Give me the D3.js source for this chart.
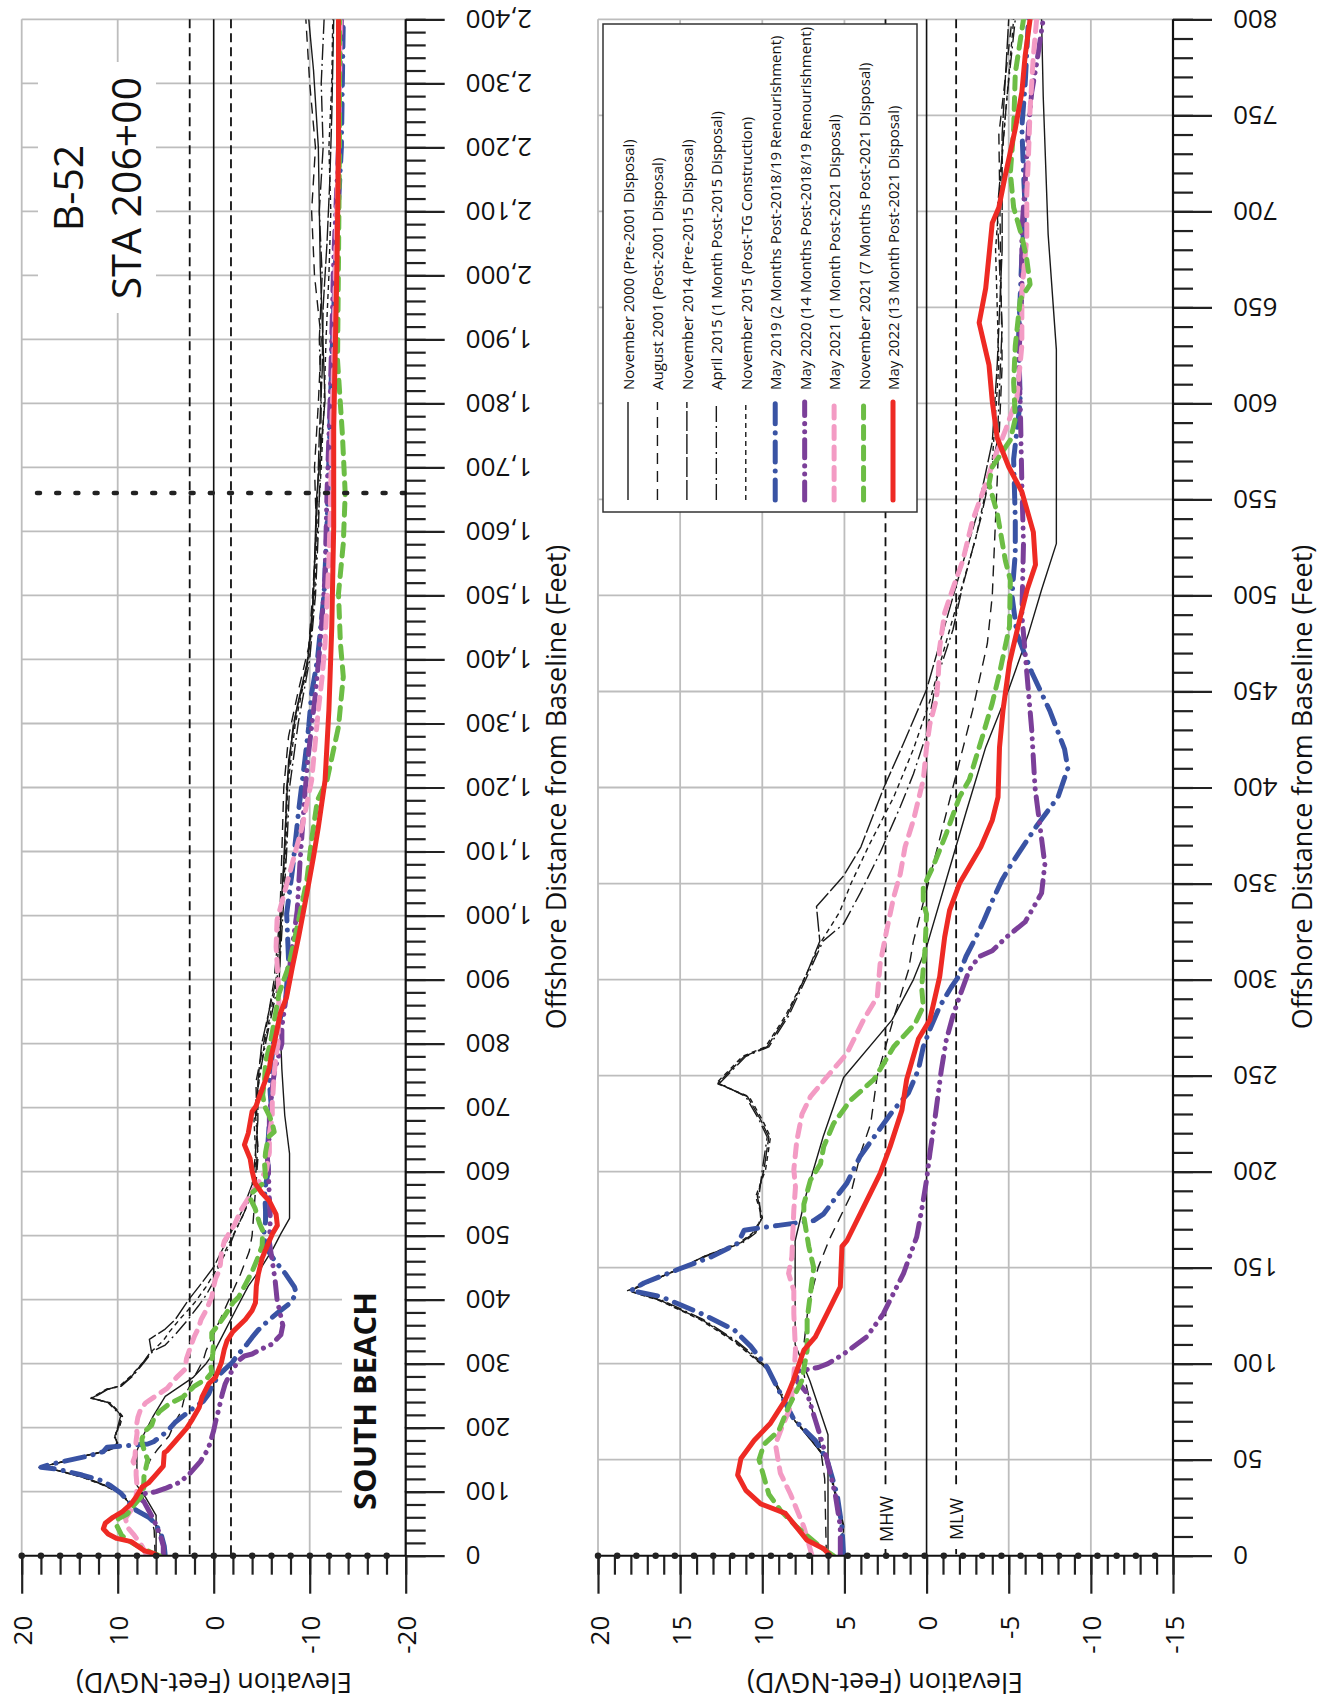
<!DOCTYPE html>
<html><head><meta charset="utf-8">
<script src="https://cdn.jsdelivr.net/npm/d3@7"></script>
<style>body{margin:0;background:#fff}svg{display:block}text{font-family:"Open Sans",sans-serif}</style>
</head><body><svg id="c" width="1323" height="1701"></svg>
<script>
// ---------- DATA: [offshore distance (ft), elevation (ft NGVD)] ----------
const nov2000 = [[0,6.0],[63,6.0],[91,7.1],[110,8.0],[164,8.0],[189,7.3],[218,6.3],[249,5.05],[279,2.1],[300,0.8],[317,0],[352,-1.2],[387,-2.4],[421,-3.6],[451,-5.0],[480,-6.2],[503,-7.0],[527,-7.9],[628,-7.9],[688,-7.4],[760,-7.1],[800,-7.0],[880,-6.8],[1000,-7.0],[1086,-7.3],[1242,-7.8],[1320,-8.6],[1400,-9.8],[1500,-10.4],[1650,-10.7],[1805,-11.6],[2013,-11.1],[2200,-10.9],[2320,-10.4],[2400,-9.9]];
const aug2001 = [[0,6.1],[40,6.2],[65,6.6],[80,7.1],[100,7.6],[130,7.2],[150,6.6],[165,5.9],[187,4.65],[210,4.0],[225,3.4],[250,3.0],[280,2.0],[305,1.1],[320,0.8],[380,-1.0],[420,-2.2],[440,-2.8],[475,-3.7],[500,-4.0],[560,-4.3],[620,-4.6],[680,-4.5],[740,-4.4],[800,-5.2],[900,-6.3],[1000,-6.9],[1100,-7.1],[1200,-7.3],[1280,-7.8],[1350,-8.8],[1420,-9.9],[1500,-10.3],[1600,-10.7],[1700,-10.5],[1800,-10.9],[1900,-11.2],[2000,-10.5],[2100,-10.2],[2200,-10.6],[2300,-10.0],[2400,-9.6]];
const nov2014 = [[0,5.1],[16,5.05],[50,6.06],[71,8.08],[97,9.7],[105,10.7],[112,11.7],[123,13.7],[133,16.2],[138,18.1],[149,15.15],[156,13.5],[163,11.3],[168,10.5],[176,10.0],[187,10.3],[201,9.9],[218,9.6],[227,10.1],[239,10.9],[246,12.7],[260,11.1],[265,9.7],[281,8.5],[303,7.3],[320,6.5],[338,6.7],[354,5.05],[369,4.0],[400,2.6],[423,1.4],[451,0],[487,-1.2],[505,-1.8],[540,-3.0],[580,-4.0],[620,-4.3],[680,-4.6],[740,-4.6],[800,-5.0],[900,-6.5],[1000,-7.0],[1100,-7.4],[1200,-7.6],[1300,-8.3],[1380,-9.6],[1450,-10.2],[1550,-10.5],[1650,-10.8],[1750,-11.0],[1850,-11.3],[1950,-11.4],[2050,-11.8],[2150,-12.1],[2250,-12.3],[2400,-12.5]];
const apr2015 = [[0,5.1],[16,5.1],[50,6.1],[71,8.0],[97,9.6],[105,10.6],[112,11.6],[123,13.6],[133,16.1],[138,18.0],[149,15.2],[156,13.4],[163,11.2],[168,10.4],[176,10.1],[187,10.2],[201,10.0],[218,9.7],[227,10.2],[239,11.0],[246,12.6],[260,11.0],[265,9.6],[281,8.4],[303,7.2],[320,6.3],[329,5.05],[345,4.04],[366,2.83],[390,1.6],[407,0.8],[428,0],[456,-0.6],[482,-1.6],[505,-2.2],[540,-3.3],[580,-4.3],[640,-4.6],[700,-4.3],[760,-4.9],[800,-5.4],[900,-6.8],[1000,-7.2],[1100,-7.6],[1200,-7.9],[1300,-8.8],[1400,-10.0],[1500,-10.6],[1600,-10.9],[1700,-11.1],[1800,-11.2],[1900,-11.0],[2000,-11.3],[2100,-11.0],[2200,-11.4],[2300,-11.2],[2400,-11.5]];
const nov2015 = [[0,5.2],[16,5.1],[50,6.0],[71,8.1],[97,9.7],[105,10.8],[112,11.8],[123,13.8],[133,16.3],[138,18.2],[149,15.1],[156,13.5],[163,11.4],[168,10.6],[176,10.0],[187,10.4],[201,9.8],[218,9.5],[227,10.0],[239,10.8],[246,12.8],[260,11.2],[265,9.8],[281,8.6],[303,7.3],[320,6.4],[335,5.3],[350,4.6],[370,3.5],[395,2.0],[420,0.8],[445,-0.2],[470,-1.0],[500,-2.0],[530,-3.0],[570,-4.0],[620,-4.4],[680,-4.2],[740,-4.7],[800,-5.3],[900,-6.6],[1000,-7.1],[1100,-7.5],[1200,-7.7],[1300,-8.5],[1400,-9.9],[1500,-10.5],[1600,-10.8],[1700,-11.2],[1800,-11.5],[1900,-11.7],[2000,-12.0],[2100,-12.2],[2200,-12.0],[2300,-12.3],[2400,-12.4]];
const may2019 = [[0,5.05],[15,5.15],[32,5.45],[50,6.06],[60,6.77],[71,8.08],[84.5,8.9],[98,9.7],[109,10.7],[117.5,11.7],[126,13.7],[135,16.2],[138,18.0],[142,17.2],[149,15.15],[155.6,13.1],[162.6,11.5],[169.5,11.1],[172,9.0],[174.5,6.87],[178,6.26],[185,5.66],[194,4.85],[208,4.04],[220,3.03],[232,2.02],[241,1.1],[253,0.5],[265,0.2],[274,-0.2],[286,-0.8],[296,-1.5],[301,-1.9],[312,-2.4],[322,-3.0],[331,-3.5],[341,-4.0],[352,-4.6],[360,-5.15],[380,-6.7],[395,-8.0],[410,-8.6],[420,-8.4],[440,-7.5],[460,-6.4],[480,-5.5],[500,-5.2],[522,-5.4],[539,-5.4],[571,-5.3],[601,-5.7],[634,-5.6],[677,-5.8],[702,-6.0],[720,-5.9],[744,-5.8],[766,-6.0],[800,-6.2],[870,-7.5],[930,-7.8],[1003,-7.6],[1071,-8.2],[1164,-8.85],[1243,-9.5],[1295,-9.9],[1347,-10.2],[1399,-10.8],[1503,-11.5],[1607,-11.8],[1711,-12.0],[1867,-12.3],[2023,-12.7],[2200,-13.3],[2400,-13.5]];
const may2020 = [[0,5.25],[15,5.25],[32,5.56],[50,6.06],[62,6.46],[70.6,6.77],[84.5,7.27],[91,7.9],[96,7.9],[98,6.6],[100,6.0],[105,5.05],[114,3.64],[126,2.63],[136.5,2.02],[147,1.4],[159,0.9],[166,0.6],[180,0.3],[195.6,0],[209.5,-0.2],[227,-0.5],[253,-0.9],[268.5,-1.2],[281,-1.6],[291,-2.0],[305,-2.6],[312,-3.2],[315,-4.0],[322,-4.85],[330,-6.0],[345,-7.0],[360,-7.2],[380,-6.9],[400,-6.6],[430,-6.4],[460,-6.1],[490,-5.8],[527,-5.9],[558,-5.8],[601,-5.7],[620,-5.6],[658,-5.8],[690,-5.8],[715,-6.0],[743,-6.2],[762,-6.4],[777,-6.7],[800,-7.1],[826,-7.1],[878,-7.6],[930,-8.0],[1008,-8.7],[1086,-9.0],[1190,-9.5],[1243,-9.8],[1347,-10.6],[1425,-11.1],[1529,-11.6],[1659,-11.8],[1815,-12.15],[2023,-12.5],[2200,-13.0],[2400,-13.3]];
const may2021 = [[0,6.97],[15,7.47],[32,8.28],[43,8.9],[58,9.2],[67,8.8],[77.5,8.28],[91,8.1],[107,7.98],[126,8.08],[138,8.08],[147,8.4],[155.6,8.2],[180,8.08],[192,7.98],[201,8.08],[216,7.9],[230,7.58],[239,7.07],[249,6.1],[261.5,4.85],[279,3.84],[291,3.0],[308,2.83],[326,2.42],[343,2.0],[355,1.6],[369,1.31],[383,0.8],[404,0.2],[421,0],[433,-0.2],[446,-0.6],[456,-0.7],[473,-0.8],[491,-1.1],[506,-1.7],[518,-2.2],[539,-2.8],[558,-3.6],[573,-4.2],[586,-4.8],[603,-5.5],[630,-5.8],[658,-5.8],[686,-6.1],[709,-6.1],[728,-6.2],[753,-6.3],[781,-6.5],[800,-6.7],[878,-6.8],[951,-6.5],[993,-6.6],[1071,-8.0],[1138,-9.2],[1211,-10.2],[1321,-10.9],[1373,-11.3],[1425,-11.6],[1555,-12.0],[1633,-12.15],[1763,-12.3],[1867,-12.5],[2023,-12.7],[2200,-13.0],[2400,-13.2]];
const nov2021 = [[0,5.66],[4.6,6.46],[15,7.9],[23.7,8.9],[32,9.6],[50,10.2],[58,9.9],[65,9.0],[77.5,8.4],[91,7.6],[107,7.27],[123,7.27],[150,6.87],[161,7.17],[176.5,7.47],[183,7.47],[195.6,7.07],[204,6.46],[213,6.26],[225,5.66],[237,4.65],[248,3.2],[265,2.0],[277,0.7],[286,0.2],[296,0.3],[315,0.1],[334,0],[340,0.2],[348,0.2],[359,-0.4],[376,-1.2],[395,-2.0],[404,-2.6],[426.5,-3.4],[444,-4.0],[459.5,-4.44],[484,-5.05],[508,-5.1],[518,-4.8],[543,-4.3],[558,-3.8],[567,-4.0],[581,-5.1],[592,-5.4],[611,-5.3],[630,-5.4],[654,-5.7],[662,-6.3],[675,-6.1],[687,-5.8],[702,-5.3],[720,-5.1],[743,-5.3],[772,-5.4],[800,-5.9],[878,-6.8],[920,-7.8],[993,-8.85],[1055,-9.7],[1118,-10.2],[1180,-10.8],[1211,-11.8],[1295,-13.0],[1373,-13.5],[1425,-13.2],[1503,-13.0],[1581,-13.5],[1659,-13.7],[1753,-13.4],[1867,-12.9],[2023,-13.0],[2200,-13.1],[2400,-13.1]];
const may2022 = [[0,5.86],[3.6,6.26],[8,7.27],[22,8.59],[27,10.1],[34,11.0],[42,11.5],[50.6,11.3],[60,10.5],[69,9.5],[81,8.6],[91.4,8.1],[107,7.47],[114,6.77],[126,6.06],[140,5.25],[161,5.15],[164,4.85],[178,4.04],[199,2.83],[213,2.22],[232,1.5],[248,1.21],[269,0.5],[279,-0.2],[301.5,-0.8],[322,-1.1],[336,-1.4],[350,-2.0],[369,-3.3],[383,-4.0],[395,-4.35],[421,-4.44],[440,-4.65],[465,-5.05],[485,-5.6],[503,-6.12],[516,-6.63],[533,-6.5],[554,-5.8],[567,-5.0],[582,-4.3],[601,-4.0],[620,-3.8],[642,-3.2],[660,-3.6],[694,-4.0],[702,-4.4],[719,-4.8],[743,-5.4],[762,-5.8],[781,-6.0],[800,-6.3],[847,-6.94],[873,-7.6],[920,-8.2],[967,-8.85],[1034,-9.7],[1092,-10.4],[1138,-10.9],[1211,-11.6],[1321,-12.0],[1451,-12.3],[1607,-12.5],[1763,-12.5],[2023,-12.85],[2200,-13.0],[2400,-13.0]];

const legendLabels = ["November 2000 (Pre-2001 Disposal)","August 2001 (Post-2001 Disposal)","November 2014 (Pre-2015 Disposal)","April 2015 (1 Month Post-2015 Disposal)","November 2015 (Post-TG Construction)","May 2019 (2 Months Post-2018/19 Renourishment)","May 2020 (14 Months Post-2018/19 Renourishment)","May 2021 (1 Month Post-2021 Disposal)","November 2021 (7 Months Post-2021 Disposal)","May 2022 (13 Month Post-2021 Disposal)"];
const seriesData = [nov2000, aug2001, nov2014, apr2015, nov2015, may2019, may2020, may2021, nov2021, may2022];

const topElevTicks = [20, 10, 0, -10, -20];
const botElevTicks = [20, 15, 10, 5, 0, -5, -10, -15];
const topDistTicks = d3.range(0, 2401, 100);
const botDistTicks = d3.range(0, 801, 50);
const MHW = 2.5, MLW = -1.8, LIMIT_LINE = 1660;

// ---------- STYLES ----------
const styles = [
  {color:"#1a1a1a", w:1.4, dash:null, cap:"butt"},
  {color:"#1a1a1a", w:1.4, dash:"11,7", cap:"butt"},
  {color:"#1a1a1a", w:1.4, dash:"20,3", cap:"butt"},
  {color:"#1a1a1a", w:1.4, dash:"16,4,2,4", cap:"butt"},
  {color:"#1a1a1a", w:1.4, dash:"5,4", cap:"butt"},
  {color:"#3953a4", w:5, dash:"20,9,0.1,9", cap:"round"},
  {color:"#7b3f99", w:5, dash:"18,8,0.1,8,0.1,8", cap:"round"},
  {color:"#f39bc4", w:5, dash:"12,8.5", cap:"round"},
  {color:"#6cbd45", w:5, dash:"12,8.5", cap:"round"},
  {color:"#ee2a24", w:5, dash:null, cap:"round"}
];
const GRID = "#bdbdbd";
const svg = d3.select("#c");

function panel(id, x, y, cfg) {
  const g = svg.append("g");
  const [xl, xr] = x.range(); const [yb, yt] = y.range();
  g.append("g").selectAll("line").data(cfg.distTicks.filter(d => d !== 0)).join("line")
    .attr("x1", xl).attr("x2", xr).attr("y1", d => y(d)).attr("y2", d => y(d))
    .attr("stroke", GRID).attr("stroke-width", 1.8);
  g.append("g").selectAll("line").data(cfg.elevTicks.filter(e => e !== 0 && e !== x.domain()[1])).join("line")
    .attr("x1", d => x(d)).attr("x2", d => x(d)).attr("y1", yt).attr("y2", yb)
    .attr("stroke", GRID).attr("stroke-width", 1.8);
  if (cfg.before) cfg.before(g);
  g.append("line").attr("x1", x(0)).attr("x2", x(0)).attr("y1", yt).attr("y2", yb).attr("stroke", "#111").attr("stroke-width", 1.6);
  [MHW, MLW].forEach(v => g.append("line").attr("x1", x(v)).attr("x2", x(v)).attr("y1", yt).attr("y2", yb)
    .attr("stroke", "#111").attr("stroke-width", 1.8).attr("stroke-dasharray", "9,5"));
  svg.append("clipPath").attr("id", id).append("rect").attr("x", xl).attr("y", yt).attr("width", xr - xl).attr("height", yb - yt);
  const line = d3.line().x(p => x(p[1])).y(p => y(p[0]));
  const lg = g.append("g").attr("clip-path", `url(#${id})`);
  seriesData.forEach((s, i) => {
    const st = styles[i];
    lg.append("path").attr("d", line(s)).attr("fill", "none").attr("stroke", st.color)
      .attr("stroke-width", st.w).attr("stroke-dasharray", st.dash).attr("stroke-linecap", st.cap).attr("stroke-linejoin", "round");
  });
  if (cfg.after) cfg.after(g);
  const ax = g.append("g").attr("transform", `translate(0,${yb})`);
  ax.append("g").call(d3.axisBottom(x).tickValues(cfg.elevMinor).tickSize(19).tickFormat(""))
    .call(a => a.select(".domain").remove());
  ax.append("g").call(d3.axisBottom(x).tickValues(cfg.elevTicks).tickSize(38).tickFormat(d3.format("d")))
    .call(a => a.select(".domain").remove())
    .call(a => a.selectAll("text").attr("y", 0).attr("dy", null).attr("transform", "translate(0,60) rotate(-90)")
      .attr("text-anchor", "end").attr("dominant-baseline", "central").attr("font-size", 26)
      .attr("font-family", '"Open Sans",sans-serif').attr("fill", "#111").text(d => d < 0 ? "-" + Math.abs(d) : d));
  ax.selectAll(".tick line").attr("stroke", "#222").attr("stroke-width", 2.2);
  ax.append("line").attr("x1", xl).attr("x2", xr).attr("stroke", "#111").attr("stroke-width", 2);
  ax.append("line").attr("x1", xl).attr("x2", xr).attr("stroke", "#222").attr("stroke-width", 6.5)
    .attr("stroke-dasharray", "0.01,19.2").attr("stroke-linecap", "round");
  const ay = g.append("g").attr("transform", `translate(${xr},0)`);
  ay.append("g").call(d3.axisRight(y).tickValues(cfg.distMinor).tickSize(20).tickFormat(""))
    .call(a => a.select(".domain").remove());
  ay.append("g").call(d3.axisRight(y).tickValues(cfg.distTicks).tickSize(39).tickFormat(d3.format(",")))
    .call(a => a.select(".domain").remove())
    .call(a => a.selectAll("text").attr("x", 60).attr("dy", null).attr("transform", "rotate(180,60,0)")
      .attr("text-anchor", "end").attr("dominant-baseline", "central").attr("font-size", 26)
      .attr("font-family", '"Open Sans",sans-serif').attr("fill", "#111"));
  ay.selectAll(".tick line").attr("stroke", "#222").attr("stroke-width", 2.2);
  ay.append("line").attr("y1", yt).attr("y2", yb).attr("stroke", "#111").attr("stroke-width", 2.2);
  g.append("text").attr("transform", `translate(${cfg.elevTitleX},1683) rotate(180)`).attr("text-anchor", "middle")
    .attr("dominant-baseline", "central").attr("font-size", 27).attr("fill", "#111").text("Elevation (Feet-NGVD)");
  g.append("text").attr("transform", `translate(${cfg.distTitleX},787) rotate(-90)`).attr("text-anchor", "middle")
    .attr("dominant-baseline", "central").attr("font-size", 27).attr("fill", "#111").text("Offshore Distance from Baseline (Feet)");
  return g;
}

// ---------- TOP PANEL ----------
const topX = d3.scaleLinear().domain([20, -20]).range([21.7, 405.7]);
const topY = d3.scaleLinear().domain([0, 2400]).range([1555.7, 19.3]);
panel("clipTop", topX, topY, {
  distTicks: topDistTicks, distMinor: d3.range(0, 2401, 20),
  elevTicks: topElevTicks, elevMinor: d3.range(-20, 20.1, 2),
  elevTitleX: 214, distTitleX: 555,
  before: g => {
    g.append("rect").attr("x", 38).attr("y", 62).attr("width", 118).attr("height", 251).attr("fill", "#fff");
    g.append("rect").attr("x", 342).attr("y", 1283).attr("width", 62).attr("height", 240).attr("fill", "#fff");
    g.append("text").attr("transform", "translate(67,188) rotate(-90)").attr("text-anchor", "middle")
      .attr("dominant-baseline", "central").attr("font-size", 41).attr("fill", "#111").text("B-52");
    g.append("text").attr("transform", "translate(125,188) rotate(-90)").attr("text-anchor", "middle")
      .attr("dominant-baseline", "central").attr("font-size", 41).attr("fill", "#111").text("STA 206+00");
    g.append("text").attr("transform", "translate(364,1401) rotate(-90)").attr("text-anchor", "middle")
      .attr("dominant-baseline", "central").attr("font-size", 31).attr("font-weight", "bold").attr("fill", "#111").text("SOUTH BEACH");
  },
  after: g => {
    g.append("line").attr("x1", 37).attr("x2", 405).attr("y1", topY(LIMIT_LINE)).attr("y2", topY(LIMIT_LINE))
      .attr("stroke", "#222").attr("stroke-width", 4.5).attr("stroke-dasharray", "3,16.2").attr("stroke-linecap", "round");
  }
});

// ---------- BOTTOM PANEL ----------
const botX = d3.scaleLinear().domain([20, -15]).range([598, 1173]);
const botY = d3.scaleLinear().domain([0, 800]).range([1555.7, 19.3]);
panel("clipBot", botX, botY, {
  distTicks: botDistTicks, distMinor: d3.range(0, 801, 10),
  elevTicks: botElevTicks, elevMinor: d3.range(-15, 20.1, 1),
  elevTitleX: 885, distTitleX: 1301,
  after: g => {
    [["MHW", MHW], ["MLW", MLW]].forEach(([t, v]) => {
      g.append("rect").attr("x", botX(v) - 10).attr("y", 1489).attr("width", 20).attr("height", 60).attr("fill", "#fff");
      g.append("text").attr("transform", `translate(${botX(v)},1519) rotate(-90)`).attr("text-anchor", "middle")
        .attr("dominant-baseline", "central").attr("font-size", 18).attr("fill", "#111").text(t);
    });
    const lg = g.append("g");
    lg.append("rect").attr("x", 603).attr("y", 24).attr("width", 314).attr("height", 488)
      .attr("fill", "#fff").attr("stroke", "#333").attr("stroke-width", 1.5);
    const colX = d3.scalePoint().domain(d3.range(10)).range([628, 893]);
    legendLabels.forEach((lab, i) => {
      const st = styles[i], cx = colX(i);
      lg.append("line").attr("x1", cx).attr("x2", cx).attr("y1", 500).attr("y2", 402)
        .attr("stroke", st.color).attr("stroke-width", st.w).attr("stroke-dasharray", st.dash).attr("stroke-linecap", st.cap);
      lg.append("text").attr("transform", `translate(${cx},390) rotate(-90)`).attr("text-anchor", "start")
        .attr("dominant-baseline", "central").attr("font-size", 15).attr("fill", "#111").text(lab);
    });
  }
});
</script></body></html>
